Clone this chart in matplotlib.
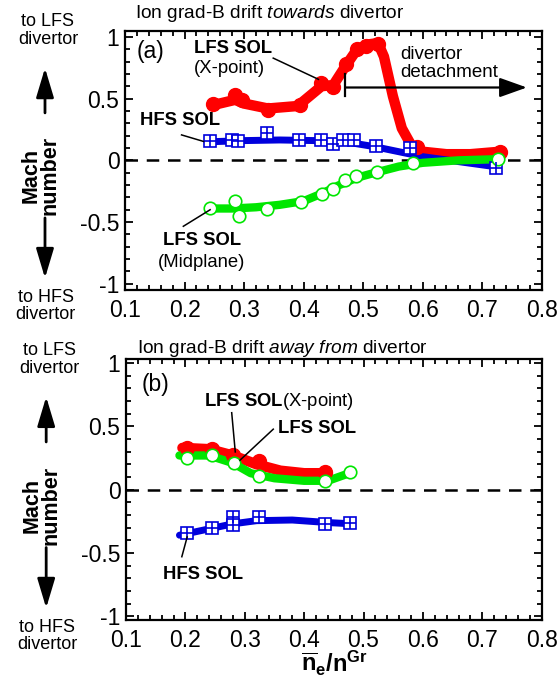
import matplotlib
matplotlib.use("Agg")
import matplotlib.pyplot as plt
from matplotlib.ticker import MultipleLocator, FuncFormatter

plt.rcParams['font.family'] = ['Liberation Sans', 'DejaVu Sans']
plt.rcParams['mathtext.fontset'] = 'custom'
plt.rcParams['mathtext.rm'] = 'Liberation Sans'
plt.rcParams['mathtext.it'] = 'Liberation Sans:italic'
plt.rcParams['mathtext.bf'] = 'Liberation Sans:bold'
plt.rcParams['axes.unicode_minus'] = False

RED = '#ff0000'
BLUE = '#0000dd'
GREEN = '#00e600'

# ---- (a) ion grad-B drift towards divertor ----
a_red_x = [0.248, 0.285, 0.296, 0.341, 0.394, 0.430, 0.450, 0.472, 0.489, 0.505, 0.525, 0.590, 0.730]
a_red_y = [0.46, 0.53, 0.49, 0.41, 0.45, 0.63, 0.59, 0.78, 0.90, 0.93, 0.94, 0.11, 0.07]
a_red_fit_x = [0.25, 0.285, 0.30, 0.34, 0.39, 0.43, 0.45, 0.47, 0.49, 0.51, 0.525, 0.535, 0.55, 0.565, 0.58, 0.60, 0.64, 0.68, 0.73]
a_red_fit_y = [0.45, 0.49, 0.46, 0.42, 0.44, 0.60, 0.61, 0.76, 0.90, 0.94, 0.95, 0.84, 0.52, 0.26, 0.13, 0.07, 0.05, 0.05, 0.07]

a_blue_x = [0.243, 0.279, 0.290, 0.338, 0.393, 0.430, 0.449, 0.467, 0.485, 0.522, 0.579, 0.724]
a_blue_y = [0.153, 0.161, 0.153, 0.22, 0.161, 0.167, 0.133, 0.167, 0.161, 0.113, 0.10, -0.058]
a_blue_fit_x = [0.24, 0.30, 0.36, 0.42, 0.47, 0.52, 0.56, 0.60, 0.66, 0.72]
a_blue_fit_y = [0.15, 0.16, 0.165, 0.16, 0.15, 0.11, 0.07, 0.03, -0.01, -0.05]

a_green_x = [0.243, 0.285, 0.292, 0.338, 0.396, 0.431, 0.450, 0.470, 0.488, 0.523, 0.584, 0.727]
a_green_y = [-0.389, -0.331, -0.447, -0.394, -0.341, -0.272, -0.23, -0.156, -0.124, -0.098, -0.018, 0.008]
a_green_fit_x = [0.24, 0.28, 0.32, 0.36, 0.40, 0.43, 0.46, 0.49, 0.52, 0.56, 0.60, 0.66, 0.73]
a_green_fit_y = [-0.39, -0.39, -0.38, -0.36, -0.33, -0.27, -0.20, -0.14, -0.10, -0.05, -0.02, 0.0, 0.01]

# ---- (b) ion grad-B drift away from divertor ----
b_red_x = [0.202, 0.244, 0.281, 0.324, 0.435]
b_red_y = [0.33, 0.32, 0.27, 0.23, 0.14]
b_red_fit_x = [0.195, 0.24, 0.28, 0.32, 0.36, 0.40, 0.44]
b_red_fit_y = [0.33, 0.32, 0.27, 0.20, 0.15, 0.13, 0.13]

b_green_x = [0.202, 0.244, 0.282, 0.324, 0.435, 0.477]
b_green_y = [0.25, 0.27, 0.21, 0.11, 0.07, 0.14]
b_green_fit_x = [0.19, 0.24, 0.28, 0.31, 0.35, 0.40, 0.44, 0.47]
b_green_fit_y = [0.27, 0.27, 0.21, 0.13, 0.09, 0.07, 0.07, 0.12]

b_blue_x = [0.202, 0.244, 0.281, 0.281, 0.324, 0.435, 0.477]
b_blue_y = [-0.34, -0.30, -0.22, -0.28, -0.22, -0.27, -0.26]
b_blue_fit_x = [0.19, 0.24, 0.28, 0.32, 0.38, 0.44, 0.48]
b_blue_fit_y = [-0.36, -0.31, -0.27, -0.245, -0.24, -0.26, -0.27]

W, H = 559, 679
fig = plt.figure(figsize=(W / 100, H / 100), dpi=100)
ax_a = fig.add_axes([125 / W, 1 - 290 / H, 416.7 / W, 259.3 / H])
ax_b = fig.add_axes([126 / W, 1 - 620 / H, 415.7 / W, 260.7 / H])


def style(ax, ypad):
    ax.set_xlim(0.1, 0.8)
    ax.set_ylim(-ypad, ypad)
    ax.xaxis.set_major_locator(MultipleLocator(0.1))
    ax.xaxis.set_minor_locator(MultipleLocator(0.02))
    ax.yaxis.set_major_locator(MultipleLocator(0.5))
    ax.yaxis.set_minor_locator(MultipleLocator(0.1))
    ax.xaxis.set_major_formatter(FuncFormatter(lambda v, p: '%g' % round(v, 2)))
    ax.yaxis.set_major_formatter(FuncFormatter(lambda v, p: '%g' % round(v, 2)))
    ax.tick_params(which='both', direction='in', top=True, right=True, width=1.3,
                   labelsize=16.5)
    ax.tick_params(axis='x', which='major', pad=6.5)
    ax.tick_params(axis='y', which='major', pad=4)
    ax.tick_params(which='major', length=6)
    ax.tick_params(which='minor', length=3.5)
    for s in ax.spines.values():
        s.set_linewidth(1.6)
    ax.axhline(0, color='k', lw=1.8, dashes=(5, 3.5), zorder=1)


def series(ax, fx, fy, mx, my, color, lw, kind):
    ax.plot(fx, fy, color=color, lw=lw, solid_capstyle='round',
            solid_joinstyle='round', zorder=2)
    if kind == 'filled':
        ax.plot(mx, my, 'o', ms=10, mfc=color, mec=color, zorder=3)
    elif kind == 'open':
        ax.plot(mx, my, 'o', ms=9, mfc='white', mec=color, mew=1.2, zorder=3)
    else:
        ax.plot(mx, my, 's', ms=8.5, mfc='white', mec=color, mew=1.2, zorder=3)
        ax.plot(mx, my, '+', ms=8.5, mec=color, mew=1.2, zorder=4)


def side_labels(ax):
    kw = dict(transform=ax.transAxes, ha='center', va='center', clip_on=False)
    ax.text(-0.185, 1.0, 'to LFS\ndivertor', fontsize=13, linespacing=1.05, **kw)
    ax.text(-0.19, -0.062, 'to HFS\ndivertor', fontsize=13, linespacing=1.0, **kw)
    ax.text(-0.203, 0.44, 'Mach\nnumber', fontsize=15.5, fontweight='bold',
            rotation=90, linespacing=0.85, **kw)
    akw = dict(xycoords='axes fraction', textcoords='axes fraction', annotation_clip=False,
               arrowprops=dict(arrowstyle='-|>,head_length=1.5,head_width=0.45',
                               mutation_scale=12, lw=2, color='k', shrinkA=0, shrinkB=0))
    ax.annotate('', xy=(-0.192, 0.856), xytext=(-0.192, 0.683), **akw)
    ax.annotate('', xy=(-0.192, 0.046), xytext=(-0.192, 0.278), **akw)


style(ax_a, 1.05)
style(ax_b, 1.03)

series(ax_a, a_red_fit_x, a_red_fit_y, a_red_x, a_red_y, RED, 7.5, 'filled')
series(ax_a, a_blue_fit_x, a_blue_fit_y, a_blue_x, a_blue_y, BLUE, 5, 'box')
series(ax_a, a_green_fit_x, a_green_fit_y, a_green_x, a_green_y, GREEN, 6, 'open')

series(ax_b, b_red_fit_x, b_red_fit_y, b_red_x, b_red_y, RED, 7.5, 'filled')
series(ax_b, b_green_fit_x, b_green_fit_y, b_green_x, b_green_y, GREEN, 6, 'open')
series(ax_b, b_blue_fit_x, b_blue_fit_y, b_blue_x, b_blue_y, BLUE, 5, 'box')

# panel (a) annotations
ax_a.text(0.024, 1.067, r'Ion grad-B drift $\mathit{towards}$ divertor', transform=ax_a.transAxes,
          fontsize=13.8, ha='left', va='center')
ax_a.text(0.142, 0.88, '(a)', fontsize=16.5, ha='center', va='center')
ax_a.text(0.281, 0.905, 'LFS SOL', fontsize=13.3, fontweight='bold', ha='center', va='center')
ax_a.text(0.276, 0.746, '(X-point)', fontsize=13.3, ha='center', va='center')
ax_a.plot([0.349, 0.425], [0.828, 0.656], color='k', lw=1.1, zorder=5)
ax_a.text(0.192, 0.325, 'HFS SOL', fontsize=13.3, fontweight='bold', ha='center', va='center')
ax_a.plot([0.195, 0.232], [0.206, 0.153], color='k', lw=1.1, zorder=5)
ax_a.text(0.229, -0.653, 'LFS SOL', fontsize=13.3, fontweight='bold', ha='center', va='center')
ax_a.text(0.229, -0.825, '(Midplane)', fontsize=13.3, ha='center', va='center')
ax_a.plot([0.198, 0.243], [-0.534, -0.40], color='k', lw=1.1, zorder=5)
ax_a.text(0.562, 0.855, 'divertor', fontsize=13.5, ha='left', va='center')
ax_a.text(0.562, 0.709, 'detachment', fontsize=13.5, ha='left', va='center')
ax_a.plot([0.47, 0.47], [0.524, 0.696], color='k', lw=1.6, zorder=5)
ax_a.annotate('', xy=(0.775, 0.59), xytext=(0.47, 0.59),
              arrowprops=dict(arrowstyle='-|>,head_length=1.4,head_width=0.5',
                              mutation_scale=12, lw=1.6, color='k', shrinkA=0, shrinkB=0))

# panel (b) annotations
ax_b.text(0.026, 1.042, r'Ion grad-B drift $\mathit{away\ from}$ divertor', transform=ax_b.transAxes,
          fontsize=13.8, ha='left', va='center')
ax_b.text(0.149, 0.83, '(b)', fontsize=16.5, ha='center', va='center')
ax_b.text(0.231, 0.70, r'$\mathbf{LFS\ SOL}$(X-point)', fontsize=13.3, ha='left', va='center')
ax_b.plot([0.278, 0.284], [0.608, 0.298], color='k', lw=1.1, zorder=5)
ax_b.text(0.356, 0.484, 'LFS SOL', fontsize=13.3, fontweight='bold', ha='left', va='center')
ax_b.plot([0.348, 0.292], [0.478, 0.233], color='k', lw=1.1, zorder=5)
ax_b.text(0.229, -0.671, 'HFS SOL', fontsize=13.3, fontweight='bold', ha='center', va='center')
ax_b.plot([0.194, 0.203], [-0.53, -0.374], color='k', lw=1.1, zorder=5)

side_labels(ax_a)
side_labels(ax_b)

fig.text(334 / W, 1 - 663 / H, r'$\mathbf{\overline{n}_e/n^{Gr}}$', fontsize=17,
         ha='center', va='center')

fig.savefig('out.png', dpi=100)
